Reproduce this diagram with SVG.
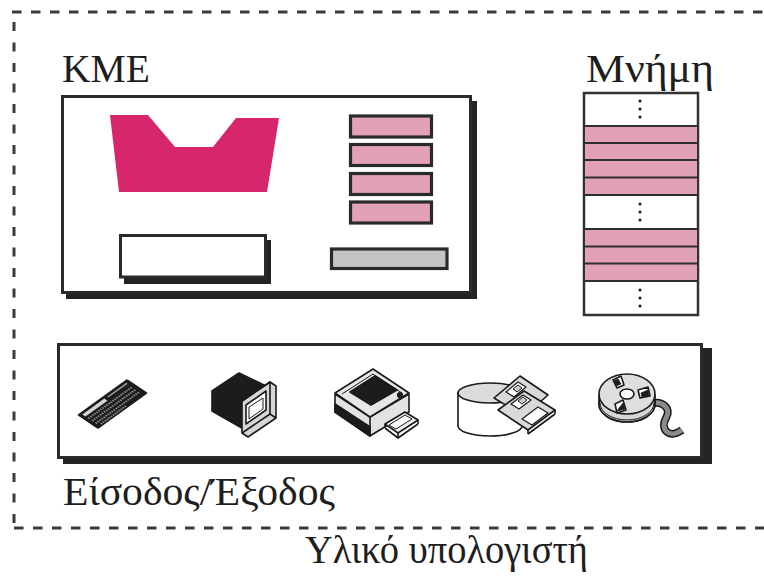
<svg xmlns="http://www.w3.org/2000/svg" width="764" height="586" viewBox="0 0 764 586">
<style>
.lbl{font-family:"Liberation Serif","Times New Roman",serif;font-size:39px;fill:#1e1e1e}
.frame{fill:#fff;stroke:#2a2a2a;stroke-width:3}
.shadow{fill:#232323}
.reg{fill:#e3a1b8;stroke:#2a2a2a;stroke-width:3.2}
.ln{stroke:#2f2f2f;stroke-width:2.2;fill:none}
.ic{stroke:#1a1a1a;stroke-width:1.6;stroke-linejoin:round}
.dot{fill:#222}
</style>
<rect width="764" height="586" fill="#fff"/>

<g id="hardware-border" fill="none" stroke="#3a3a3a" stroke-width="3">
  <line x1="12" y1="12" x2="764" y2="12" stroke-dasharray="9.5 9.5"/>
  <line x1="14" y1="22" x2="14" y2="527" stroke-dasharray="9 11.5"/>
  <line x1="14" y1="528" x2="764" y2="528" stroke-dasharray="9.5 9.5"/>
</g>

<g id="cpu">
  <rect class="shadow" x="66" y="101" width="411" height="198"/>
  <rect class="frame" x="62.5" y="96.5" width="408" height="196"/>
  <polygon points="110,115 148,115 175,147 213,147 236,118 279,118 267,192 119,192" fill="#d6266c"/>
  <rect class="reg" x="350.5" y="116" width="81" height="21"/>
  <rect class="reg" x="350.5" y="144.5" width="81" height="21"/>
  <rect class="reg" x="350.5" y="173.5" width="81" height="21"/>
  <rect class="reg" x="350.5" y="202" width="81" height="21"/>
  <rect class="shadow" x="124" y="240" width="147" height="44"/>
  <rect class="frame" x="120.5" y="235.5" width="145" height="41.5"/>
  <rect x="331.5" y="249" width="115.5" height="19.5" fill="#c4c4c6" stroke="#2a2a2a" stroke-width="3.2"/>
  <text class="lbl" x="62" y="82" textLength="88" lengthAdjust="spacingAndGlyphs">ΚΜΕ</text>
</g>

<g id="memory">
  <rect x="584" y="93" width="114" height="222" fill="#fff" stroke="#333" stroke-width="2.5"/>
  <rect x="585" y="126" width="112" height="69" fill="#e3a1b8"/>
  <rect x="585" y="229" width="112" height="52" fill="#e3a1b8"/>
  <g class="ln">
    <line x1="584" y1="126" x2="698" y2="126"/>
    <line x1="584" y1="143" x2="698" y2="143"/>
    <line x1="584" y1="160" x2="698" y2="160"/>
    <line x1="584" y1="177.5" x2="698" y2="177.5"/>
    <line x1="584" y1="195" x2="698" y2="195"/>
    <line x1="584" y1="229" x2="698" y2="229"/>
    <line x1="584" y1="246.5" x2="698" y2="246.5"/>
    <line x1="584" y1="263.5" x2="698" y2="263.5"/>
    <line x1="584" y1="281" x2="698" y2="281"/>
  </g>
  <g class="dot">
    <circle cx="640" cy="101" r="1.6"/><circle cx="640" cy="109" r="1.6"/><circle cx="640" cy="117" r="1.6"/>
    <circle cx="640" cy="204" r="1.6"/><circle cx="640" cy="212" r="1.6"/><circle cx="640" cy="220" r="1.6"/>
    <circle cx="640" cy="290" r="1.6"/><circle cx="640" cy="298" r="1.6"/><circle cx="640" cy="306" r="1.6"/>
  </g>
  <text class="lbl" x="586" y="82" textLength="128" lengthAdjust="spacingAndGlyphs">Μνήμη</text>
</g>

<g id="io">
  <rect class="shadow" x="63" y="348" width="649" height="116"/>
  <rect class="frame" x="58.5" y="344.5" width="643" height="113"/>

  <g id="keyboard" transform="matrix(0.5,-0.36,1.05,0.7,77,415)">
    <rect x="0" y="0" width="100" height="20" rx="1.5" fill="#1c1c1c"/>
    <rect x="6" y="2.2" width="44" height="3" fill="#d4d4d4"/>
    <rect x="56" y="2.2" width="38" height="1.4" fill="#9a9a9a"/>
    <g stroke="#8c8c8c" stroke-width="1.6" stroke-dasharray="2.4 1.6" fill="none">
      <line x1="6" y1="8" x2="94" y2="8"/>
      <line x1="6" y1="11.5" x2="94" y2="11.5"/>
      <line x1="6" y1="15" x2="94" y2="15"/>
      <line x1="10" y1="18" x2="60" y2="18"/>
    </g>
  </g>

  <g id="monitor" class="ic">
    <polygon points="212,391 239,373 266,386 266,410 247,431 212,411" fill="#1c1c1c"/>
    <polygon points="242,401 270,382 276,386 276,418 248,437 242,433" fill="#d6d6d6"/>
    <polyline points="242,401 270,382 270,414 242,433" fill="none"/>
    <line x1="270" y1="414" x2="276" y2="418"/>
    <polygon points="246,405 266,391 266,410 246,424" fill="#fff"/>
    <polygon points="249,407 263,398 263,409 249,419" fill="none" stroke-width="1"/>
  </g>

  <g id="printer" class="ic">
    <polygon points="335,394 335,412 370,436 409,412 409,394 370,417" fill="#e2e2e2"/>
    <polygon points="335,404 370,427 370,436 335,412" fill="#1c1c1c"/>
    <line x1="370" y1="417" x2="370" y2="436"/>
    <polygon points="335,393 373,369 409,393 370,417" fill="#e6e6e6"/>
    <polygon points="350,392 375,376 397,390 371,405" fill="#1c1c1c"/>
    <polyline points="342,394 373,374 402,393" fill="none" stroke-width="1"/>
    <circle cx="400" cy="395" r="2.3" fill="#1c1c1c"/>
    <polygon points="385,424 405,412 418,420 398,433" fill="#f0f0f0"/>
    <polygon points="389,425 405,415 412,419 396,429" fill="#fff" stroke-width="1"/>
    <line x1="385" y1="424" x2="385" y2="428"/>
    <line x1="398" y1="433" x2="398" y2="438"/>
    <line x1="418" y1="420" x2="418" y2="424"/>
    <polyline points="385,428 398,438 418,424" fill="none"/>
  </g>

  <g id="disk" class="ic">
    <path d="M458,393 L458,426 A32,10 0 0 0 522,426 L522,393 Z" fill="#fff"/>
    <ellipse cx="490" cy="393" rx="32" ry="10" fill="#dcdcdc"/>
    <polygon points="494,398 520,376 548,395 524,416" fill="#d9d9d9"/>
    <polygon points="506,392 518,382 526,387 514,397" fill="#fff" stroke-width="1.2"/>
    <polygon points="513,389 518,385 522,388 517,392" fill="#cfcfcf" stroke-width="1"/>
    <polygon points="498,410 524,391 555,410 528,430" fill="#d9d9d9"/>
    <polygon points="511,404 523,395 531,400 519,409" fill="#fff" stroke-width="1.2"/>
    <polygon points="518,401 523,397 527,400 522,404" fill="#cfcfcf" stroke-width="1"/>
    <polygon points="522,419 538,407 548,413 532,425" fill="#fff" stroke-width="1.2"/>
    <line x1="528" y1="430" x2="528" y2="434"/>
    <line x1="555" y1="410" x2="555" y2="414"/>
    <line x1="528" y1="434" x2="555" y2="414"/>
  </g>

  <g id="tape" class="ic">
    <path d="M650,404 C662,400 672,408 666,418 C660,428 668,440 682,430" fill="none" stroke="#1a1a1a" stroke-width="8"/>
    <path d="M650,404 C662,400 672,408 666,418 C660,428 668,440 682,430" fill="none" stroke="#8a8a8a" stroke-width="5"/>
    <path d="M599,395 L599,404 A28,18 0 0 0 655,404 L655,395 Z" fill="#d6d6d6"/>
    <ellipse cx="627" cy="404" rx="28" ry="18" fill="#d6d6d6"/>
    <path d="M600,403 A27,17 0 0 0 654,403" fill="none" stroke-width="1"/>
    <ellipse cx="627" cy="394" rx="28" ry="20" fill="#dedede"/>
    <ellipse cx="627" cy="394" rx="7" ry="5" fill="#fff"/>
    <polygon points="613,380 621,376 624,385 617,388" fill="#fff"/>
    <polygon points="616,386 621,384 618,379 614,381" fill="#1c1c1c" stroke-width="0.8"/>
    <polygon points="638,390 648,387 650,396 640,398" fill="#fff"/>
    <polygon points="641,393 648,390 649,396 642,397" fill="#1c1c1c" stroke-width="0.8"/>
    <polygon points="615,404 623,400 626,410 617,413" fill="#fff"/>
    <polygon points="617,411 623,403 625,409" fill="#1c1c1c" stroke-width="0.8"/>
  </g>

  <text class="lbl" x="63" y="505" textLength="272" lengthAdjust="spacingAndGlyphs">Είσοδος/Έξοδος</text>
</g>

<text id="title" class="lbl" x="305" y="563" textLength="283" lengthAdjust="spacingAndGlyphs">Υλικό υπολογιστή</text>
</svg>
